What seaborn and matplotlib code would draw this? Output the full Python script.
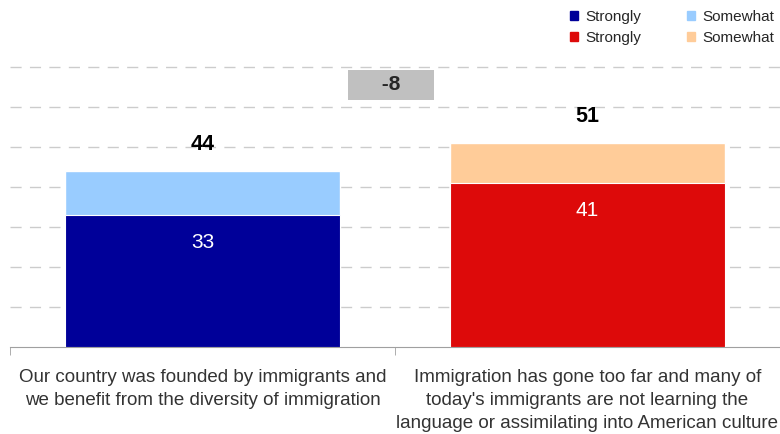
import matplotlib
matplotlib.use('Agg')
import matplotlib.pyplot as plt
import seaborn as sns
import pandas as pd
from matplotlib.patches import Patch

# dane z wykresu
statements = ['Our country was founded by immigrants and\nwe benefit from the diversity of immigration',
              "Immigration has gone too far and many of\ntoday's immigrants are not learning the\nlanguage or assimilating into American culture"]
strongly = [33, 41]
total = [44, 51]
gap_label = '-8'

strong_colors = ['#000099', '#DD0A0A']
soft_colors = ['#99CCFF', '#FFCC99']

df = pd.DataFrame({'statement': statements, 'strongly': strongly, 'total': total})

sns.set_style('white')
plt.rcParams['font.family'] = ['Liberation Sans', 'DejaVu Sans']

fig = plt.figure(figsize=(7.8, 4.34), dpi=100)
ax = fig.add_axes([0.0128, 0.2005, 0.9872, 0.7375])

# przerywane linie siatki
for y in range(10, 80, 10):
    ax.axhline(y, color='#CCCCCC', lw=1, ls=(0, (8, 6)), zorder=0)

sns.barplot(data=df, x='statement', y='total', hue='statement', palette=soft_colors,
            legend=False, width=0.714, saturation=1, ax=ax, zorder=2)
sns.barplot(data=df, x='statement', y='strongly', hue='statement', palette=strong_colors,
            legend=False, width=0.714, saturation=1, ax=ax, zorder=3,
            edgecolor='white', linewidth=0.8)

for i in range(len(statements)):
    ax.text(i, total[i] + 6.5, str(total[i]), ha='center', va='center',
            fontsize=15.5, fontweight='bold', color='black')
    ax.text(i, strongly[i] - 7, str(strongly[i]), ha='center', va='center',
            fontsize=15, color='white', zorder=5)

ax.text(0.49, 65.5, ' ' * 5 + gap_label + ' ' * 5, ha='center', va='center',
        fontsize=15, fontweight='bold',
        bbox=dict(boxstyle='square,pad=0.25', fc='#C0C0C0', ec='none'), zorder=5)

ax.set_xlim(-0.5, 1.5)
ax.set_ylim(0, 80)
ax.set_yticks([])
ax.set_xlabel('')
ax.set_ylabel('')
for s in ['top', 'left', 'right']:
    ax.spines[s].set_visible(False)
ax.spines['bottom'].set_color('#A0A0A0')
ax.set_xticks([-0.5, 0.5, 1.5], minor=True)
ax.tick_params(axis='x', which='major', length=0, pad=16, labelsize=13.5, labelcolor='#333333')
ax.tick_params(axis='x', which='minor', length=6, color='#A0A0A0', bottom=True)
for lbl in ax.get_xticklabels():
    lbl.set_linespacing(1.45)

handles = [Patch(color=strong_colors[0], label='Strongly'),
           Patch(color=strong_colors[1], label='Strongly'),
           Patch(color=soft_colors[0], label='Somewhat'),
           Patch(color=soft_colors[1], label='Somewhat')]
fig.legend(handles=handles, ncol=2, loc='upper right', bbox_to_anchor=(1.01, 1.008),
           frameon=False, fontsize=11, handlelength=0.55, handleheight=0.55,
           handletextpad=0.45, columnspacing=3.0, labelspacing=0.45)

fig.savefig('out.png', dpi=100)
